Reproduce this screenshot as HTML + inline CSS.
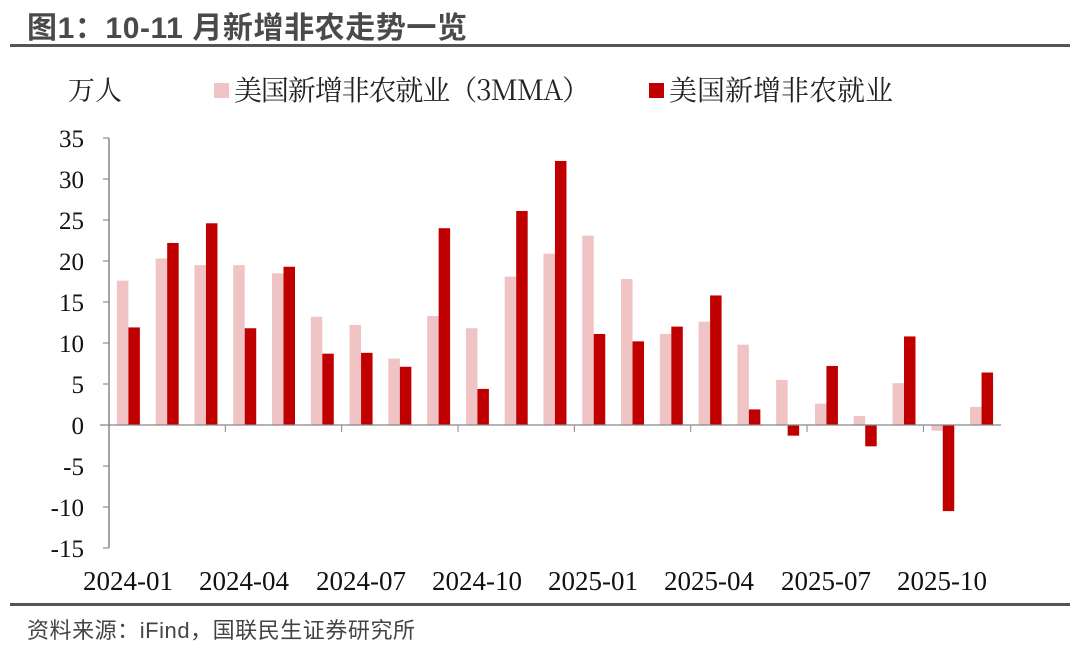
<!DOCTYPE html>
<html><head><meta charset="utf-8"><style>
body{margin:0;width:1080px;height:648px;background:#fff;overflow:hidden}
svg{display:block}
</style></head><body>
<svg id="s" width="1080" height="648" xmlns="http://www.w3.org/2000/svg" font-family="Liberation Serif, Noto Serif CJK SC, serif">
<text x="27" y="38" font-family="Liberation Sans, Noto Sans CJK SC, sans-serif" font-weight="bold" font-size="30" fill="#4a4a4a" textLength="440">图1：10-11 月新增非农走势一览</text>
<rect x="10" y="44" width="1060" height="3" fill="#555"/>
<text x="68" y="100" font-family="Noto Serif CJK SC, serif" font-size="27" fill="#222">万人</text>
<rect x="214" y="83" width="15" height="15" fill="#f0c4c4"/>
<text x="234" y="100" font-family="Noto Serif CJK SC, serif" font-size="28" fill="#222" textLength="356">美国新增非农就业（3MMA）</text>
<rect x="649" y="83" width="15" height="15" fill="#c00000"/>
<text x="669" y="100" font-family="Noto Serif CJK SC, serif" font-size="28" fill="#222">美国新增非农就业</text>
<g font-size="25" fill="#111" text-anchor="end">
<text x="84" y="147">35</text><text x="84" y="188">30</text><text x="84" y="229">25</text><text x="84" y="270">20</text><text x="84" y="311">15</text><text x="84" y="352">10</text><text x="84" y="393">5</text><text x="84" y="434">0</text><text x="84" y="475">-5</text><text x="84" y="516">-10</text><text x="84" y="557">-15</text>
</g>
<g font-size="27" fill="#111" text-anchor="middle">
<text x="128" y="590">2024-01</text><text x="244" y="590">2024-04</text><text x="361" y="590">2024-07</text><text x="477" y="590">2024-10</text><text x="593" y="590">2025-01</text><text x="709" y="590">2025-04</text><text x="826" y="590">2025-07</text><text x="942" y="590">2025-10</text>
</g>
<line x1="109" y1="138" x2="109" y2="548" stroke="#777" stroke-width="1.3"/>
<g id="bars"></g>
<line x1="100" y1="425" x2="1001" y2="425" stroke="#888" stroke-width="1.3"/>
<rect x="10" y="603" width="1060" height="3" fill="#555"/>
<text x="27" y="638" font-family="Liberation Sans, Noto Sans CJK SC, sans-serif" font-size="22" fill="#444" textLength="388">资料来源：iFind，国联民生证券研究所</text>
</svg>
<script>
var p=[17.6,20.3,19.5,19.5,18.5,13.2,12.2,8.1,13.3,11.8,18.1,20.9,23.1,17.8,11.1,12.6,9.8,5.5,2.6,1.1,5.1,-0.7,2.2];
var r=[11.9,22.2,24.6,11.8,19.3,8.7,8.8,7.1,24.0,4.4,26.1,32.2,11.1,10.2,12.0,15.8,1.9,-1.3,7.2,-2.6,10.8,-10.5,6.4];
var g=document.getElementById('bars'),h='',k=8.2,w=38.78;
function b(x,v,c){var y=v>=0?425-v*k:425;h+='<rect x="'+x+'" y="'+y+'" width="11.5" height="'+Math.abs(v*k)+'" fill="'+c+'"/>';}
for(var i=0;i<23;i++){var c=109+w*(i+0.5);b(c-11.5,p[i],'#f0c4c4');b(c,r[i],'#c00000');}
for(var t=0;t<11;t++){var y=138+41*t;h+='<line x1="103" y1="'+y+'" x2="109" y2="'+y+'" stroke="#777"/>';}
for(var j=3;j<=23;j+=3){var x=109+w*j;h+='<line x1="'+x+'" y1="425" x2="'+x+'" y2="432" stroke="#888"/>';}
g.innerHTML=h;
</script>
</body></html>
